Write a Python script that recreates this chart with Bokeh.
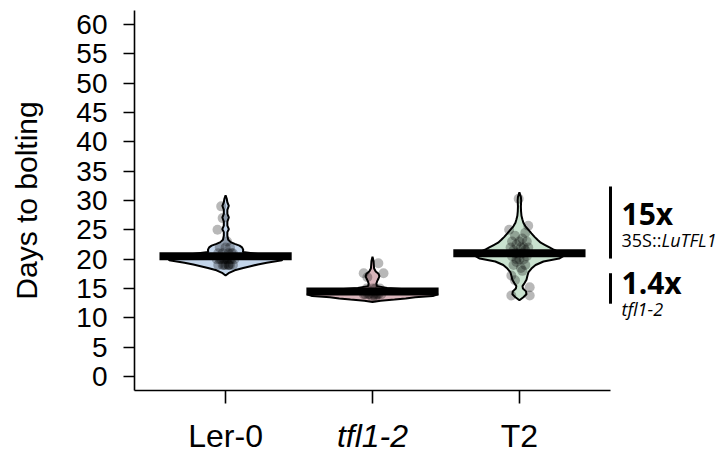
from bokeh.plotting import figure
from bokeh.models import Label, Arrow, FixedTicker
from bokeh.embed import file_html
from bokeh.resources import INLINE

# ---------------- data ----------------
categories = ["Ler-0", "tfl1-2", "T2"]
cat_pos = [1, 2, 3]
cat_italic = [False, True, False]
means = [20.5, 14.5, 21.0]
bean_fill = ["#c3d5ea", "#d8b4ba", "#c9e2cf"]

y_ticks = [0, 5, 10, 15, 20, 25, 30, 35, 40, 45, 50, 55, 60]

# bean outlines: days and half-width (in category-axis units)
ler_days = [17.2, 17.6, 18.1, 18.5, 18.8, 19.1, 19.4, 19.8, 20.3, 20.8, 21.2, 21.6, 22.0, 22.3, 22.6,
            22.9, 23.3, 24.0, 24.6, 25.1, 25.7, 26.4, 27.1, 27.7, 28.4, 29.1, 29.7, 30.3, 30.9]
ler_half = [0, 0.02, 0.062, 0.12, 0.17, 0.22, 0.28, 0.384, 0.39, 0.25, 0.118, 0.12, 0.112, 0.095, 0.062,
            0.035, 0.018, 0.012, 0.012, 0.022, 0.012, 0.012, 0.022, 0.012, 0.012, 0.022, 0.012, 0.008, 0]

tfl_days = [12.7, 12.9, 13.1, 13.3, 13.5, 13.7, 14.0, 14.4, 14.8, 15.1, 15.4, 15.8, 16.2, 16.7, 17.1,
            17.5, 17.9, 18.4, 19.0, 19.7, 20.4]
tfl_half = [0, 0.055, 0.15, 0.226, 0.29, 0.41, 0.445, 0.41, 0.27, 0.1, 0.03, 0.026, 0.031, 0.041, 0.047,
            0.041, 0.022, 0.011, 0.009, 0.007, 0]

t2_days = [13.0, 13.5, 14.0, 14.5, 15.0, 15.4, 15.9, 16.5, 17.2, 17.8, 18.4, 19.0, 19.6, 20.1, 20.7,
           21.2, 21.6, 22.0, 22.4, 22.8, 23.3, 23.8, 24.4, 25.0, 25.6, 26.2, 26.8, 27.4, 28.2, 29.0,
           30.0, 30.6, 31.4]
t2_half = [0, 0.027, 0.048, 0.045, 0.024, 0.021, 0.034, 0.048, 0.055, 0.062, 0.082, 0.11, 0.164, 0.27, 0.31,
           0.27, 0.235, 0.205, 0.175, 0.145, 0.123, 0.103, 0.082, 0.062, 0.041, 0.027, 0.02, 0.014, 0.011, 0.01,
           0.012, 0.01, 0]

# individual plants: horizontal jitter and days
ler_dx = [-0.03, -0.02, -0.055, 0.01, -0.04, 0.03, 0.0, 0.05, -0.02, 0.02, -0.05, 0.04, 0.0, -0.03, 0.03,
          0.06, -0.06, 0.01, -0.01, 0.04, -0.04, 0.02, -0.02, 0.0, 0.03, -0.05, 0.05, -0.01, 0.02]
ler_pts = [29, 27, 25, 23, 22, 22, 22, 21, 21, 21, 21, 21, 20, 20, 20,
           20, 20, 20, 20, 20, 20, 19, 19, 19, 19, 19, 19, 19, 19]

tfl_dx = [0.04, -0.06, 0.075, -0.035, 0.02, -0.04, 0.05, 0.0, -0.02, 0.03, -0.06, 0.06, 0.01, -0.03,
          0.04, -0.05, 0.0, 0.02]
tfl_pts = [19.3, 17.6, 17.6, 16.9, 15, 15, 15, 15, 14, 14, 14, 14, 14, 14, 14, 14, 13.5, 13.5]

t2_dx = [-0.005, 0.06, -0.07, 0.04, -0.03, 0.02, -0.05, 0.05, 0.0, -0.02, 0.03, -0.06, 0.06, 0.01, -0.04,
         0.04, -0.01, 0.02, -0.03, 0.05, -0.05, 0.0, 0.03, -0.02, 0.04, -0.04, 0.01, -0.055, -0.03, 0.07,
         -0.055, 0.07, 0.02, -0.02]
t2_pts = [30.3, 25.7, 25.0, 24.5, 24, 23.5, 23, 23, 23, 22.5, 22, 22, 22, 22, 21.5,
          21.5, 21, 21, 21, 20.5, 20.5, 20, 20, 19.5, 19, 19, 18.5, 17.2, 16.4, 15.2,
          13.8, 13.8, 18, 20]

# fold-change annotations on the right
fold_labels = ["15x", "1.4x"]
fold_low = [20.1, 12.4]
fold_high = [32.4, 17.6]
fold_sub_plain = ["35S::", ""]
fold_sub_italic = ["LuTFL1", "tfl1-2"]

bean_days = [ler_days, tfl_days, t2_days]
bean_half = [ler_half, tfl_half, t2_half]
pts_dx = [ler_dx, tfl_dx, t2_dx]
pts_days = [ler_pts, tfl_pts, t2_pts]

# ---------------- layout (pixels) ----------------
W, H = 723, 452
box_left, box_right, box_top, box_bottom = 134, 610, 10, 390   # plotting box in canvas px
x_lo, x_hi = 0.38, 3.62      # data limits of plotting box
y_lo, y_hi = -2.4, 62.4

sx = (box_right - box_left) / (x_hi - x_lo)
sy = (box_bottom - box_top) / (y_hi - y_lo)
xr = (x_lo - box_left / sx, x_hi + (W - box_right) / sx)
yr = (y_lo - (H - box_bottom) / sy, y_hi + box_top / sy)

p = figure(width=W, height=H, x_range=xr, y_range=yr,
           output_backend="svg", toolbar_location=None, min_border=0)
p.outline_line_color = None
p.grid.visible = False
p.background_fill_color = "white"
p.border_fill_color = "white"

for i in range(3):
    c = cat_pos[i]
    d = bean_days[i]
    h = bean_half[i]
    xs = [c + w for w in h] + [c - w for w in reversed(h)]
    ys = list(d) + list(reversed(d))
    p.patch(xs, ys, fill_color=bean_fill[i], fill_alpha=1.0, line_color="black", line_width=2)

for i in range(3):
    c = cat_pos[i]
    p.scatter([c + dx for dx in pts_dx[i]], pts_days[i], size=10, marker="circle",
              fill_color="black", fill_alpha=0.28, line_color=None)

for i in range(3):
    c = cat_pos[i]
    p.segment(x0=[c - 0.45], x1=[c + 0.45], y0=[means[i]], y1=[means[i]],
              line_color="black", line_width=8, line_cap="butt")

# axes, pinned to the plotting box
p.yaxis.fixed_location = x_lo
p.yaxis.bounds = (y_lo, y_hi)
p.yaxis.ticker = FixedTicker(ticks=y_ticks)
p.yaxis.minor_tick_line_color = None
p.yaxis.major_tick_in = 0
p.yaxis.major_tick_out = 11
p.yaxis.major_label_standoff = 16
p.yaxis.major_label_text_font = "Liberation Sans"
p.yaxis.major_label_text_font_size = "28px"
p.yaxis.major_label_text_color = "black"
p.yaxis.axis_line_width = 1.6
p.yaxis.major_tick_line_width = 1.6
p.yaxis.axis_label = "Days to bolting"
p.yaxis.axis_label_text_font = "Liberation Sans"
p.yaxis.axis_label_text_font_size = "30px"
p.yaxis.axis_label_text_font_style = "normal"
p.yaxis.axis_label_text_color = "black"
p.yaxis.axis_label_standoff = 30

p.xaxis.fixed_location = y_lo
p.xaxis.bounds = (x_lo, x_hi)
p.xaxis.ticker = FixedTicker(ticks=cat_pos)
p.xaxis.major_label_overrides = {c: "" for c in cat_pos}
p.xaxis.major_label_text_font_size = "1px"
p.xaxis.minor_tick_line_color = None
p.xaxis.major_tick_in = 0
p.xaxis.major_tick_out = 13
p.xaxis.axis_line_width = 1.6
p.xaxis.major_tick_line_width = 1.6

for i in range(3):
    p.add_layout(Label(x=cat_pos[i], y=y_lo, y_offset=-45, text=categories[i],
                       text_align="center", text_baseline="alphabetic",
                       text_font="Liberation Sans", text_font_size="32px",
                       text_font_style="italic" if cat_italic[i] else "normal",
                       text_color="black"))

# right-hand annotations
title_offsets = [-27, -9]
sub_offsets = [-54, -36]
for j in range(2):
    p.add_layout(Arrow(start=None, end=None, x_start=x_hi, x_end=x_hi,
                       y_start=fold_low[j], y_end=fold_high[j],
                       line_color="black", line_width=3))
    top = fold_high[j]
    p.add_layout(Label(x=x_hi, y=top, x_offset=11, y_offset=title_offsets[j], text=fold_labels[j],
                       text_align="left", text_baseline="alphabetic",
                       text_font="Open Sans", text_font_size="30px", text_font_style="bold",
                       text_color="black"))
    off = 11
    if fold_sub_plain[j]:
        p.add_layout(Label(x=x_hi, y=top, x_offset=off, y_offset=sub_offsets[j], text=fold_sub_plain[j],
                           text_align="left", text_baseline="alphabetic",
                           text_font="Open Sans", text_font_size="18px", text_color="black"))
        off += 40
    p.add_layout(Label(x=x_hi, y=top, x_offset=off, y_offset=sub_offsets[j], text=fold_sub_italic[j],
                       text_align="left", text_baseline="alphabetic",
                       text_font="Open Sans", text_font_size="18px", text_font_style="italic",
                       text_color="black"))

open("out.html", "w").write(file_html(p, INLINE))
